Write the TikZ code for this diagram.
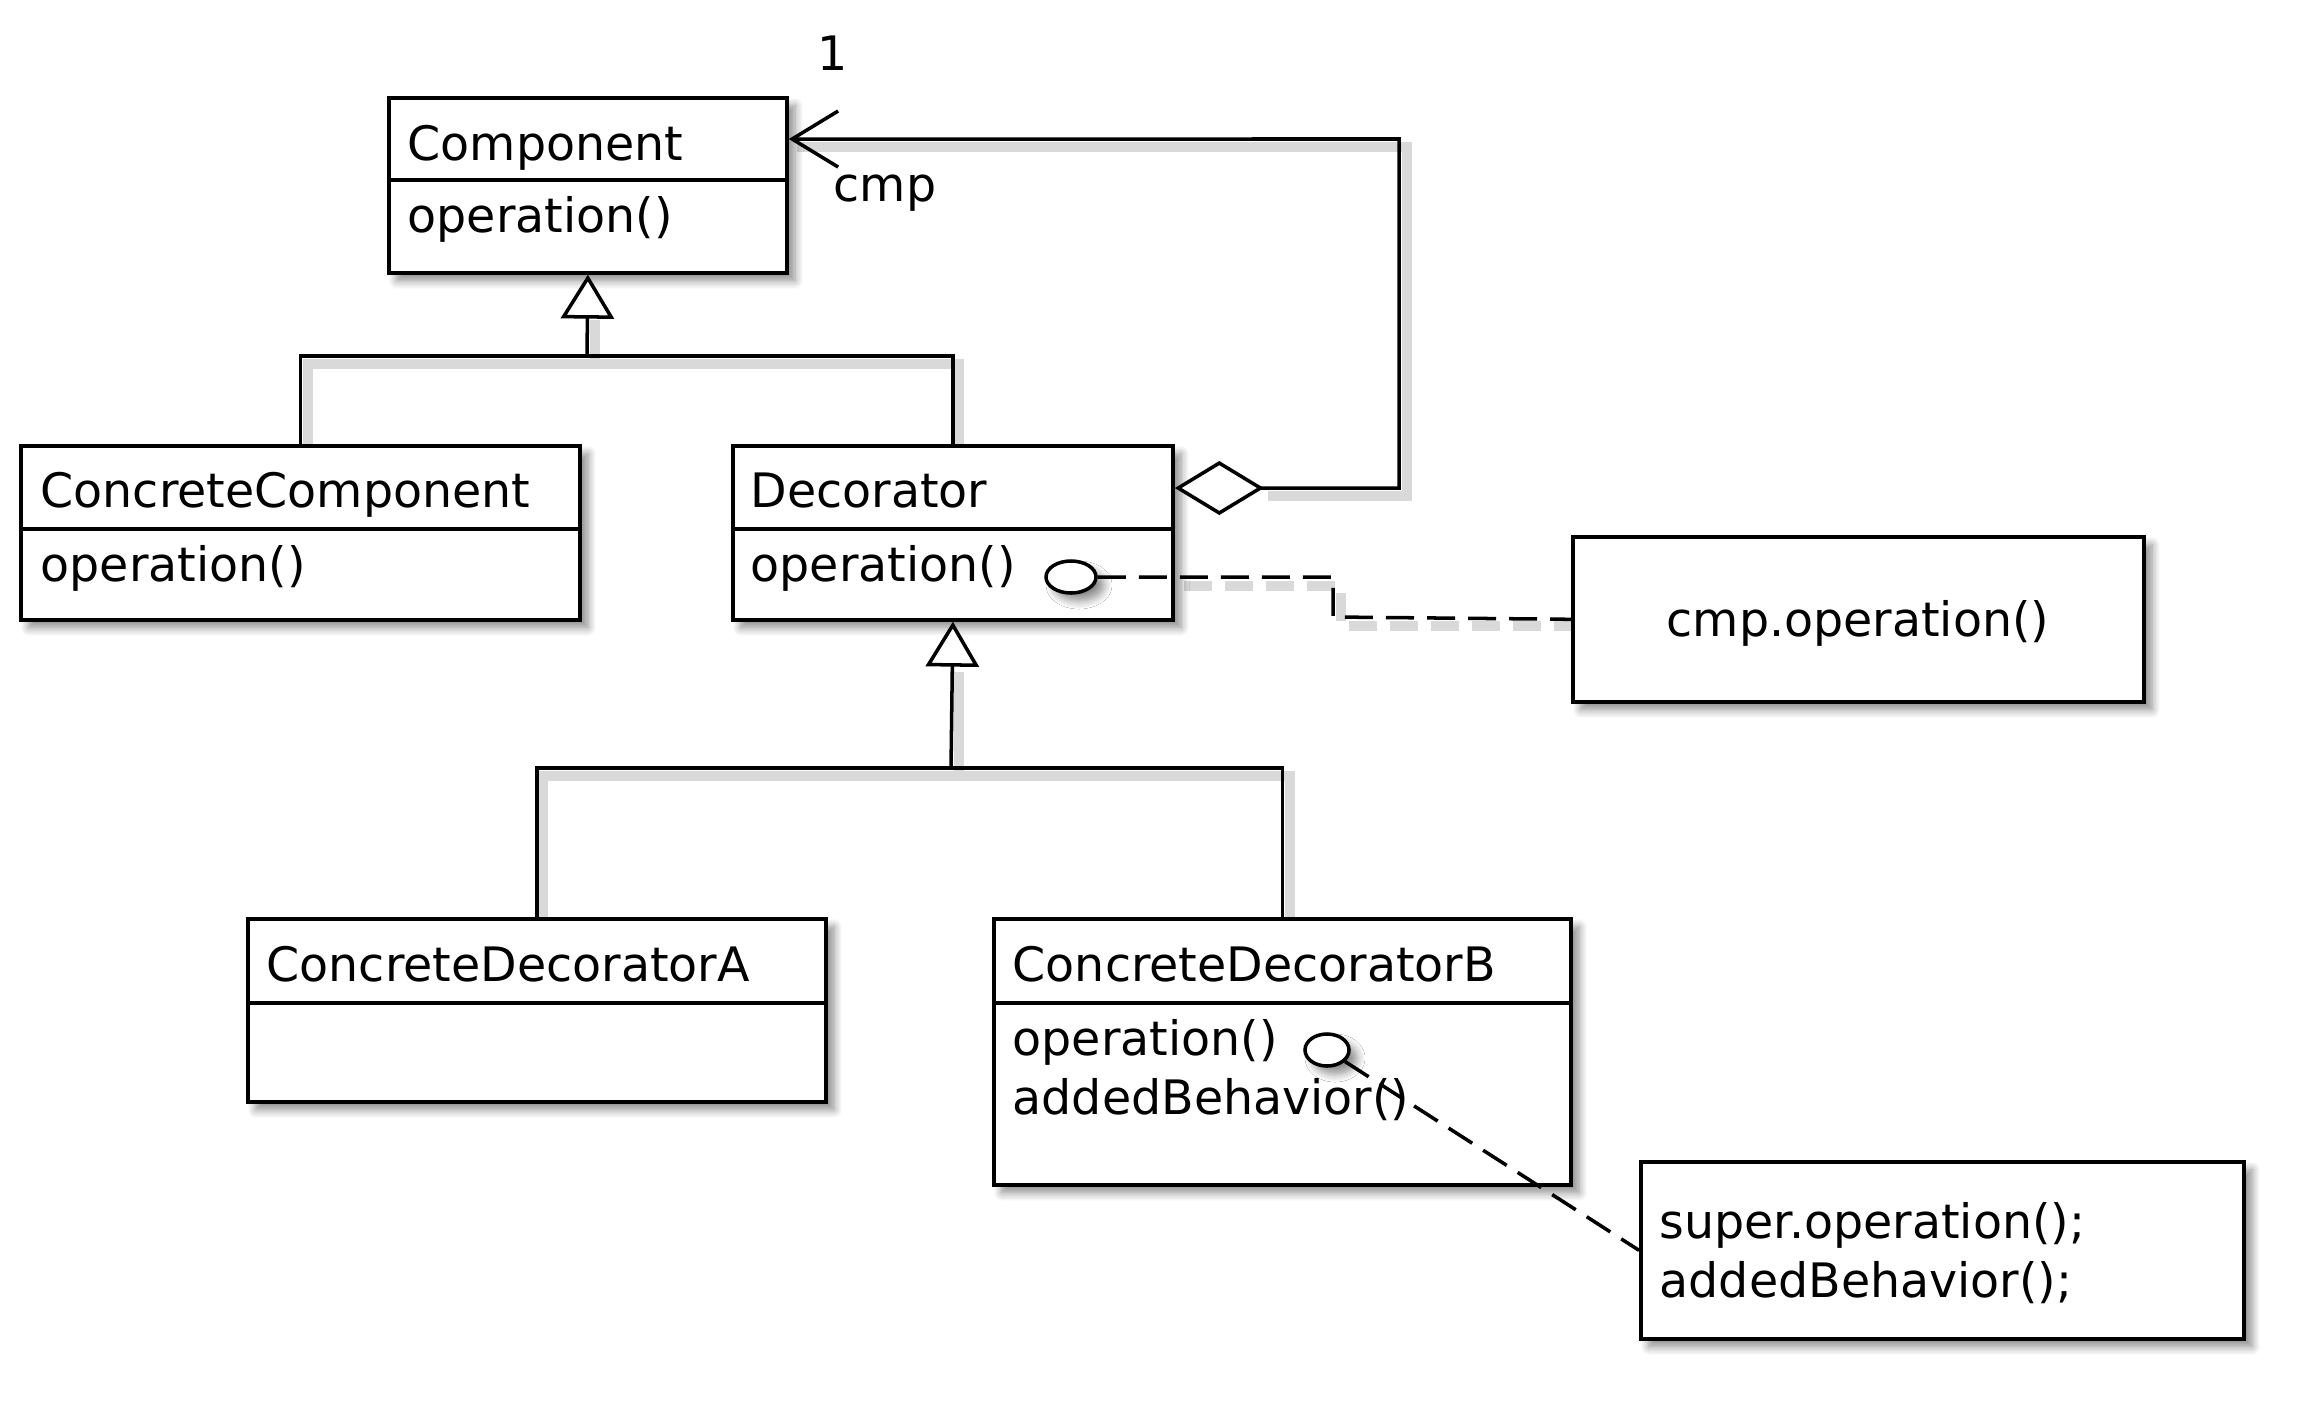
\documentclass[tikz,border=0pt]{standalone}
\usepackage{fontspec}
\setmainfont{DejaVu Sans}
\usetikzlibrary{arrows.meta,shapes.geometric,shadows.blur}
\begin{document}
\begin{tikzpicture}[x=0.01cm,y=-0.01cm,
  every node/.style={font=\fontsize{13.5}{16}\selectfont},
  shad/.style={blur shadow={shadow xshift=0.08cm,shadow yshift=-0.08cm,shadow opacity=45,shadow blur steps=8,shadow blur radius=0.08cm}},
  cls/.style={draw,line width=1pt,fill=white,rectangle,inner sep=0pt,anchor=north west,shad},
  txt/.style={anchor=base west,inner sep=0pt},
  conn/.style={line width=1pt},
  notel/.style={line width=1pt,dash pattern=on 0.28cm off 0.13cm},
  oval/.style={draw,ellipse,line width=1pt,fill=white,inner sep=0pt,shad},
  lshad/.style={line width=3pt,draw=black!15}
]
\useasboundingbox (0,0) rectangle (2319,1415);

% line shadows
\draw[lshad] (595,320) -- (595,364) (308,450) -- (308,364) -- (959,364) -- (959,450);
\draw[lshad] (959,672) -- (959,776) (543,923) -- (543,776) -- (1290,776) -- (1290,923);
\draw[lshad] (797,147) -- (1407,147) -- (1407,496) -- (1268,496);
\draw[lshad,dash pattern=on 0.28cm off 0.13cm] (1102,586) -- (1341,586) -- (1341,626) -- (1577,626);

% classes
\node[cls,minimum width=3.98cm,minimum height=1.75cm] (comp) at (387,96) {};
\node[cls,minimum width=5.59cm,minimum height=1.74cm] (cc) at (19,444) {};
\node[cls,minimum width=4.40cm,minimum height=1.74cm] (dec) at (731,444) {};
\node[cls,minimum width=5.78cm,minimum height=1.83cm] (cda) at (246,917) {};
\node[cls,minimum width=5.77cm,minimum height=2.66cm] (cdb) at (992,917) {};
\node[cls,minimum width=5.71cm,minimum height=1.65cm] (note1) at (1571,535) {};
\node[cls,minimum width=6.03cm,minimum height=1.77cm] (note2) at (1639,1160) {};

% compartments
\draw[conn] ([yshift=-0.84cm]comp.north west) -- ([yshift=-0.84cm]comp.north east);
\draw[conn] ([yshift=-0.85cm]cc.north west) -- ([yshift=-0.85cm]cc.north east);
\draw[conn] ([yshift=-0.85cm]dec.north west) -- ([yshift=-0.85cm]dec.north east);
\draw[conn] ([yshift=-0.86cm]cda.north west) -- ([yshift=-0.86cm]cda.north east);
\draw[conn] ([yshift=-0.86cm]cdb.north west) -- ([yshift=-0.86cm]cdb.north east);

% texts
\node[txt] (t1) at (407,160) {Component};
\node[txt] (t2) at (407,232) {operation()};
\node[txt] (t3) at (40,507) {ConcreteComponent};
\node[txt] (t4) at (40,581) {operation()};
\node[txt] (t5) at (750,507) {Decorator};
\node[txt] (t6) at (750,581) {operation()};
\node[txt] (t7) at (266,981) {ConcreteDecoratorA};
\node[txt] (t8) at (1012,981) {ConcreteDecoratorB};
\node[txt] (t9) at (1012,1055) {operation()};
\node[txt] (t10) at (1012,1114) {addedBehavior()};
\node[anchor=base,inner sep=0pt] (t11) at (1858,636) {cmp.operation()};
\node[txt] (t12) at (1659,1238) {super.operation();};
\node[txt] (t13) at (1659,1297) {addedBehavior();};
\node[anchor=base,inner sep=0pt] (mult) at (833,70) {1};
\node[txt] (role) at (833,201) {cmp};

% inheritance
\coordinate (j1) at (587,356);
\coordinate (j2) at (951,768);
\draw[conn] (cc.north) |- (j1) -| (dec.north);
\draw[conn,-{Triangle[open,fill=white,length=0.44cm,width=0.53cm,line width=1pt]}] (j1) -- (comp.south);
\draw[conn] (cda.north) |- (j2) -| (cdb.north);
\draw[conn,-{Triangle[open,fill=white,length=0.45cm,width=0.53cm,line width=1pt]}] (j2) -- (dec.south);

% aggregation / association
\coordinate (b1) at (1399,488);
\coordinate (b2) at (1399,139);
\draw[conn,{Diamond[open,fill=white,length=0.89cm,width=0.54cm,line width=1pt]}-{Straight Barb[length=0.46cm,width=0.56cm,line width=1pt]}]
  ([yshift=-0.44cm]dec.north east) -- (b1) -- (b2) -- ([yshift=-0.43cm]comp.north east);

% note links
\node[oval,minimum width=0.50cm,minimum height=0.32cm] (e1) at (1071,577) {};
\node[oval,minimum width=0.44cm,minimum height=0.32cm] (e2) at (1327,1050) {};
\coordinate (k1) at (1333,577);
\coordinate (k2) at (1333,617);
\draw[notel] (e1.east) -- (k1) -- (k2) -- (note1.west);
\draw[notel] (e2) -- (note2.west);
\end{tikzpicture}
\end{document}
